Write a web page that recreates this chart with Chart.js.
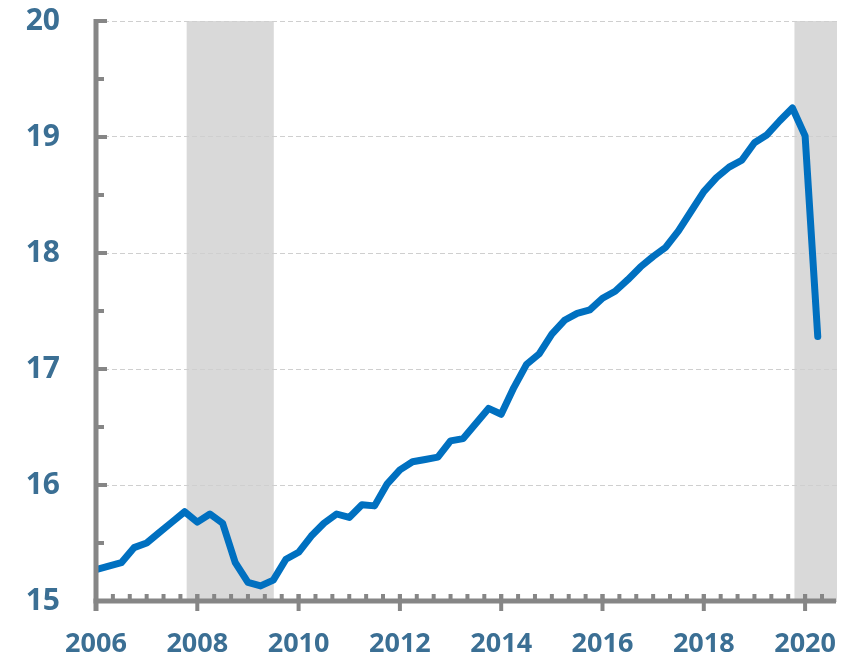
<!DOCTYPE html>
<html>
<head>
<meta charset="utf-8">
<script src="https://cdn.jsdelivr.net/npm/chart.js@4/dist/chart.umd.min.js"></script>
<style>
  html, body { margin: 0; padding: 0; background: #fff; }
  #wrap { width: 858px; height: 657px; }
</style>
</head>
<body>
<div id="wrap"><canvas id="chart" width="858" height="657"></canvas></div>
<script>
// quarterly observations, 2006 Q1 .. 2020 Q2
const quarters = [
  '2006Q1','2006Q2','2006Q3','2006Q4','2007Q1','2007Q2','2007Q3','2007Q4',
  '2008Q1','2008Q2','2008Q3','2008Q4','2009Q1','2009Q2','2009Q3','2009Q4',
  '2010Q1','2010Q2','2010Q3','2010Q4','2011Q1','2011Q2','2011Q3','2011Q4',
  '2012Q1','2012Q2','2012Q3','2012Q4','2013Q1','2013Q2','2013Q3','2013Q4',
  '2014Q1','2014Q2','2014Q3','2014Q4','2015Q1','2015Q2','2015Q3','2015Q4',
  '2016Q1','2016Q2','2016Q3','2016Q4','2017Q1','2017Q2','2017Q3','2017Q4',
  '2018Q1','2018Q2','2018Q3','2018Q4','2019Q1','2019Q2','2019Q3','2019Q4',
  '2020Q1','2020Q2'
];
const values = [
  15.27, 15.30, 15.33, 15.46, 15.50, 15.59, 15.68, 15.77,
  15.68, 15.75, 15.67, 15.33, 15.16, 15.13, 15.18, 15.36,
  15.42, 15.56, 15.67, 15.75, 15.72, 15.83, 15.82, 16.01,
  16.13, 16.20, 16.22, 16.24, 16.38, 16.40, 16.53, 16.66,
  16.61, 16.84, 17.04, 17.13, 17.30, 17.42, 17.48, 17.51,
  17.61, 17.67, 17.77, 17.88, 17.97, 18.05, 18.19, 18.36,
  18.53, 18.65, 18.74, 18.80, 18.95, 19.02, 19.14, 19.25,
  19.01, 17.28
];
const xTicks = [2006, 2008, 2010, 2012, 2014, 2016, 2018, 2020];
const yTicks = [15, 16, 17, 18, 19, 20];
const recessions = [[2007.79, 2009.51], [2019.79, 2020.63]];
const xMin = 2006, xMax = 2020.63;

const labelColor = '#3b6f94';
const axisColor = '#868686';

function qToYear(q) {
  return parseInt(q.slice(0, 4)) + (parseInt(q.slice(5)) - 1) / 4;
}
const points = quarters.map((q, i) => ({ x: qToYear(q), y: values[i] }));

const shading = {
  id: 'shading',
  beforeDraw(chart) {
    const { ctx, chartArea, scales: { x } } = chart;
    ctx.save();
    ctx.fillStyle = '#d9d9d9';
    recessions.forEach(r => {
      const a = x.getPixelForValue(r[0]), b = x.getPixelForValue(r[1]);
      ctx.fillRect(a, chartArea.top, b - a, chartArea.bottom - chartArea.top);
    });
    ctx.restore();
  }
};

const axes = {
  id: 'axes',
  afterDatasetsDraw(chart) {
    const { ctx, chartArea, scales: { x, y } } = chart;
    const x0 = x.getPixelForValue(xMin);
    const y0 = y.getPixelForValue(15);
    ctx.save();
    ctx.strokeStyle = axisColor;
    ctx.lineCap = 'butt';
    // y axis line
    ctx.lineWidth = 5;
    ctx.beginPath();
    ctx.moveTo(x0, chartArea.top - 2);
    ctx.lineTo(x0, y0 + 10);
    ctx.stroke();
    // x axis line
    ctx.beginPath();
    ctx.moveTo(x0 - 2.5, y0);
    ctx.lineTo(chartArea.right - 1, y0);
    ctx.stroke();
    ctx.lineWidth = 4;
    // y ticks (inside)
    for (let v = 15.5; v <= 20; v += 0.5) {
      const py = y.getPixelForValue(v);
      const len = Number.isInteger(v) ? 11 : 8;
      ctx.beginPath();
      ctx.moveTo(x0, py);
      ctx.lineTo(x0 + len, py);
      ctx.stroke();
    }
    // x minor ticks every 4 months, above axis
    for (let m = 0; ; m += 4) {
      const v = xMin + m / 12;
      if (v > xMax) break;
      const px = x.getPixelForValue(v);
      ctx.beginPath();
      ctx.moveTo(px, y0 - 7);
      ctx.lineTo(px, y0);
      ctx.stroke();
    }
    // x major ticks, below axis
    xTicks.forEach(v => {
      const px = x.getPixelForValue(v);
      ctx.beginPath();
      ctx.moveTo(px, y0 - 7);
      ctx.lineTo(px, y0 + 10);
      ctx.stroke();
    });
    ctx.restore();
  }
};

new Chart(document.getElementById('chart'), {
  type: 'line',
  data: {
    datasets: [{
      data: points,
      borderColor: '#0070c0',
      borderWidth: 7,
      borderJoinStyle: 'round',
      borderCapStyle: 'round',
      pointRadius: 0,
      tension: 0
    }]
  },
  options: {
    responsive: false,
    animation: false,
    layout: { padding: { left: 0, right: 21, top: 21, bottom: 0 } },
    plugins: { legend: { display: false }, tooltip: { enabled: false } },
    scales: {
      x: {
        type: 'linear',
        min: xMin,
        max: xMax,
        afterBuildTicks: s => { s.ticks = xTicks.map(v => ({ value: v })); },
        afterFit: s => { s.height = 56; s.paddingLeft = 0; s.paddingRight = 0; },
        grid: { display: false, drawTicks: false },
        border: { display: false },
        ticks: {
          padding: 27,
          color: labelColor,
          maxRotation: 0,
          font: { family: 'Open Sans', weight: 'bold', size: 27 },
          callback: v => String(v)
        }
      },
      y: {
        min: 15,
        max: 20,
        afterBuildTicks: s => { s.ticks = yTicks.map(v => ({ value: v })); },
        afterFit: s => { s.width = 96; s.paddingTop = 0; s.paddingBottom = 0; },
        grid: { color: '#cfcfcf', lineWidth: 1, drawTicks: false },
        border: { display: false, dash: [5, 3] },
        ticks: {
          padding: 36,
          color: labelColor,
          font: { family: 'Open Sans', weight: 'bold', size: 30 },
          callback: v => String(v)
        }
      }
    }
  },
  plugins: [shading, axes]
});
</script>
</body>
</html>
